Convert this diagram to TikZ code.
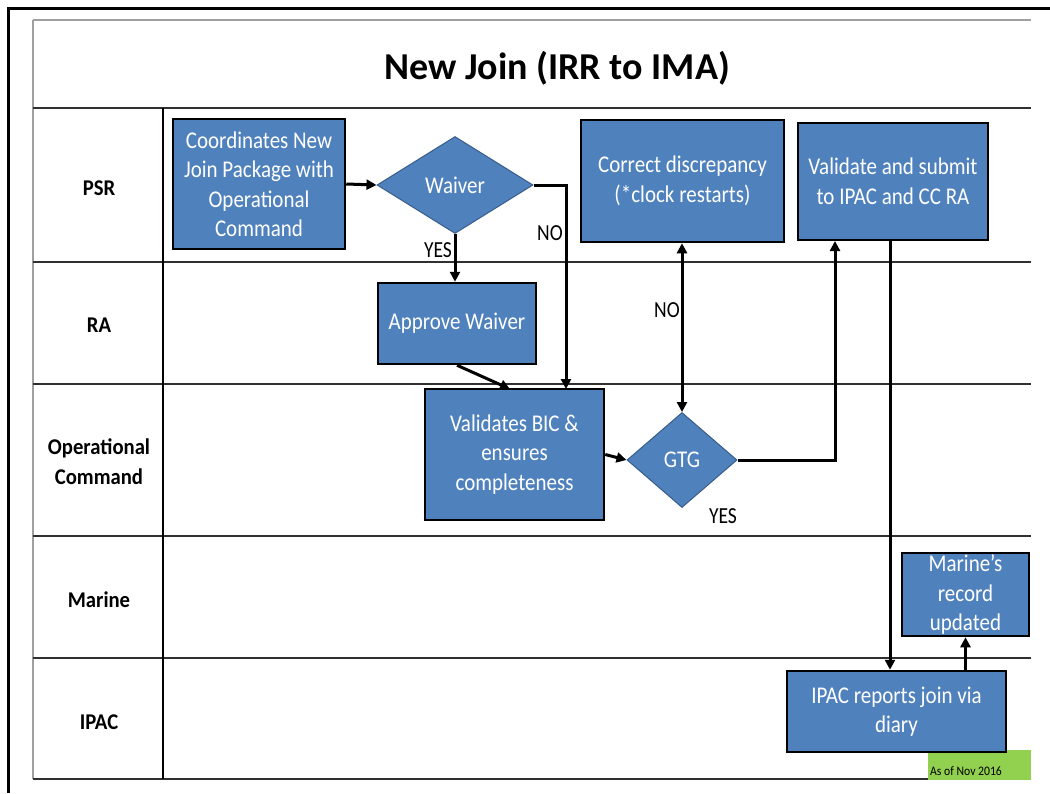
\documentclass[tikz,border=0pt]{standalone}
\usepackage{tikz}
\usepackage{fontspec}
\setmainfont{Carlito}
\newfontfamily\boxfont[FakeStretch=0.875]{Carlito}
\newfontfamily\lblfont[FakeStretch=0.85]{Carlito}
\newfontfamily\lanefont[FakeStretch=0.92]{Carlito}
\newfontfamily\notefont[FakeStretch=0.9]{Carlito}
\usetikzlibrary{shapes.geometric,arrows.meta,calc}
\definecolor{boxblue}{HTML}{4F81BD}
\definecolor{diablue}{HTML}{385D8A}
\definecolor{gridgray}{HTML}{303030}
\definecolor{lightgray}{HTML}{A0A0A0}
\definecolor{asgreen}{HTML}{92D050}
\begin{document}
\begin{tikzpicture}[x=1pt,y=-1pt,
  boxnode/.style={draw=black,line width=2.5pt,fill=boxblue,text=white,align=center,inner sep=0pt,font=\boxfont\fontsize{24}{29.5}\selectfont},
  decision/.style={diamond,draw=diablue,line width=1pt,fill=boxblue,text=white,inner sep=0pt,font=\boxfont\fontsize{24}{29}\selectfont},
  flow/.style={line width=3pt,-{Triangle[length=10pt,width=10pt]}},
  bothflow/.style={line width=3pt,{Triangle[length=10pt,width=10pt]}-{Triangle[length=10pt,width=10pt]}},
  lbl/.style={font=\lblfont\fontsize{23}{26}\selectfont,inner sep=0pt},
  lane/.style={font=\lanefont\fontsize{22.5}{30}\selectfont\bfseries,align=center,inner sep=0pt},
  gridline/.style={draw=gridgray,line width=1.5pt}]
\useasboundingbox (0,0) rectangle (1050,793);
\fill[white] (0,0) rectangle (1050,793);
% outer frame
\draw[line width=3pt,black] (8,793) -- (8,8) -- (1050,8);
% table
\draw[draw=lightgray,line width=1.2pt] (33,20) -- (1031,20);
\draw[draw=lightgray,line width=1.2pt] (33,20) -- (33,779);
\foreach \yy in {108,262,384,536,658,779}{
  \draw[gridline] (33,\yy) -- (1031,\yy);
}
\draw[draw=black,line width=2pt] (163,108) -- (163,779);
% title
\node[anchor=base,font=\fontsize{38}{44}\selectfont\bfseries,inner sep=0pt] (title) at (557,79) {New Join (IRR to IMA)};
% lane labels
\node[lane] (lpsr) at (99,188) {PSR};
\node[lane] (lra) at (99,325) {RA};
\node[lane] (loc) at (99,462) {Operational\\Command};
\node[lane] (lmar) at (99,600) {Marine};
\node[lane] (lipac) at (99,722) {IPAC};
% green note
\fill[asgreen] (928,750) rectangle (1031,780);
\node[anchor=base west,font=\notefont\fontsize{13}{15}\selectfont,inner sep=0pt] (asof) at (930,775) {As of Nov 2016};
% boxes
\node[boxnode,minimum width=172pt,minimum height=130pt] (coord) at (259,184) {Coordinates New\\Join Package with\\Operational\\Command};
\node[decision,minimum width=156pt,minimum height=97pt] (waiver) at (455,185) {Waiver};
\node[boxnode,minimum width=158pt,minimum height=81pt] (approve) at (457,323.5) {Approve Waiver};
\node[boxnode,minimum width=179pt,minimum height=131pt] (valbic) at (514.5,454.5) {Validates BIC \&\\ensures\\completeness};
\node[decision,minimum width=110pt,minimum height=95pt] (gtg) at (682,460) {GTG};
\node[boxnode,minimum width=203pt,minimum height=122pt] (correct) at (682.5,181) {Correct discrepancy\\(*clock restarts)};
\node[boxnode,minimum width=190pt,minimum height=117pt] (vsub) at (893,181.5) {Validate and submit\\to IPAC and CC RA};
\node[boxnode,minimum width=219pt,minimum height=81pt] (ipac) at (896.5,711.5) {IPAC reports join via\\diary};
\node[boxnode,minimum width=127pt,minimum height=83pt] (marine) at (965.5,594.5) {Marine’s\\record\\updated};
% connector end points
\coordinate (noin) at (566,389);
\coordinate (apin) at (510,389);
\coordinate (vsin) at (835,241);
% connectors
\draw[flow] (coord.east) -- (waiver.west);
\draw[flow] (waiver.south) -- (waiver.south |- approve.north);
\draw[flow] (waiver.east) -| (noin);
\draw[flow] (approve.south) -- (apin);
\draw[flow] (valbic.east) -- (gtg.west);
\draw[flow] (gtg.east) -| (vsin);
\draw[bothflow] (correct.south -| gtg.north) -- (gtg.north);
\draw[flow] (vsub.south -| 890,0) -- (ipac.north -| 890,0);
\draw[flow] (ipac.north -| marine.south) -- (marine.south);
% labels
\node[lbl] (yes1) at (438,250) {YES};
\node[lbl] (no1) at (550,233) {NO};
\node[lbl] (no2) at (667,310) {NO};
\node[lbl] (yes2) at (723,516) {YES};
\end{tikzpicture}
\end{document}
